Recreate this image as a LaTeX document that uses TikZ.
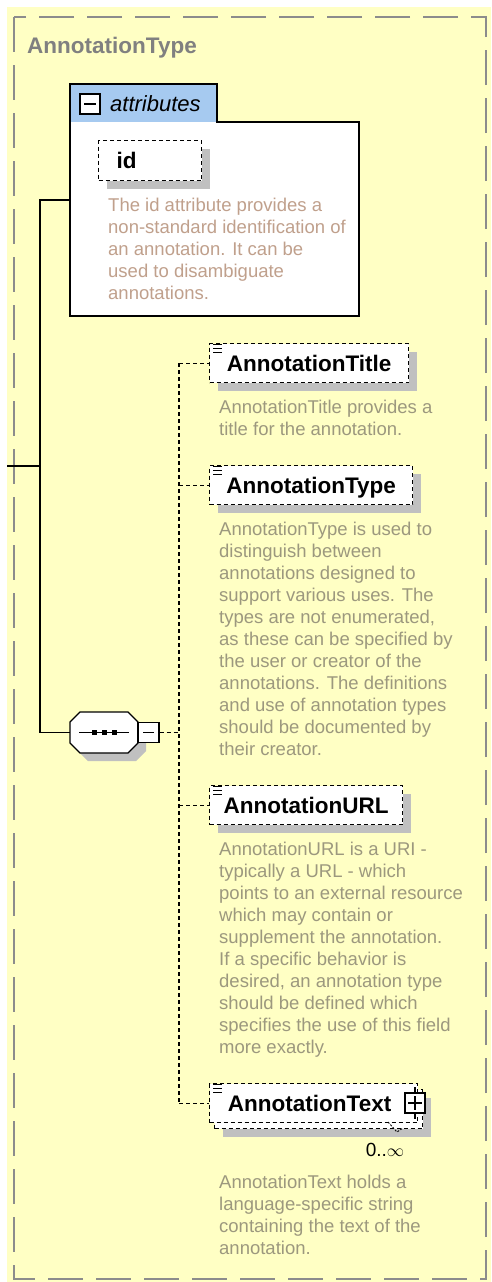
\documentclass[tikz,border=0pt]{standalone}
\usepackage{fontspec}
\setmainfont{Liberation Sans}
\usetikzlibrary{shadows}

\definecolor{typebg}{RGB}{255,255,196}
\definecolor{framegray}{RGB}{140,140,140}
\definecolor{titlegray}{RGB}{128,128,128}
\definecolor{tabblue}{RGB}{166,202,240}
\definecolor{shadegray}{RGB}{192,192,192}
\definecolor{attrnote}{RGB}{192,160,140}
\definecolor{elemnote}{RGB}{156,152,126}

\tikzset{
  elembox/.style={draw, fill=white, line width=1.3pt, dash pattern=on 4pt off 3pt,
    anchor=north west, minimum height=39pt, inner sep=0pt, text height=16.5pt, text depth=0pt,
    font=\fontsize{22.5}{24}\selectfont\bfseries},
  boxshade/.style={general shadow={fill=shadegray, shadow xshift=8pt, shadow yshift=-8pt}},
  notetext/.style={anchor=north west, align=left, inner sep=0pt, font=\fontsize{18.5}{22}\selectfont},
  dashlink/.style={line width=1.3pt, dash pattern=on 4pt off 3pt},
  solidlink/.style={line width=1.3pt},
  ctlbox/.style={draw, fill=white, line width=1.2pt, minimum size=20pt, inner sep=0pt},
}

\begin{document}
\begin{tikzpicture}[x=1pt, y=-1pt]
\useasboundingbox (0,0) rectangle (491,1282);
\fill[typebg] (7,7) rectangle (491,1282);
\draw[framegray, line width=1.3pt, dash pattern=on 35pt off 13pt] (14,17) rectangle (486,1279);
\node[anchor=base west, inner sep=0pt, text=titlegray, font=\fontsize{22.5}{24}\selectfont\bfseries] (typename) at (27,53) {AnnotationType};

% attributes group
\fill[white] (70,122) rectangle (359,316);
\fill[tabblue] (70,84) rectangle (217,122);
\draw[solidlink] (70,316) -- (70,84) -- (217,84) -- (217,122) -- (359,122) -- (359,316) -- cycle;
\node[ctlbox] (attrctl) at (90,104) {};
\draw[line width=1.2pt] (84,104) -- (96,104);
\node[anchor=base west, inner sep=0pt, font=\fontsize{22}{24}\selectfont\itshape] (attrlabel) at (110,111) {attributes};
\node[elembox, boxshade, minimum width=103pt, minimum height=40pt, text width=67pt, align=left] (id) at (98,140) {id};
\node[notetext, text=attrnote] (idnote) at (108,198) {The id attribute provides a\\non-standard identification of\\an annotation. It can be\\used to disambiguate\\annotations.};

% sequence
\fill[shadegray] (88,720) -- (136,720) -- (146,730) -- (146,751) -- (136,761) -- (88,761) -- (78,751) -- (78,730) -- cycle;
\draw[solidlink, fill=white] (80,712) -- (128,712) -- (138,722) -- (138,743) -- (128,753) -- (80,753) -- (70,743) -- (70,722) -- cycle;
\node[inner sep=0pt, minimum width=68pt, minimum height=41pt] (seq) at (104,732.5) {};
\draw[solidlink] (79,732.5) -- (129,732.5);
\foreach \x in {94.5,104.5,114.5}
  \fill (\x-2.5,730) rectangle (\x+2.5,735);
\node[ctlbox, minimum width=21pt] (seqctl) at (148.5,732.5) {};
\draw[line width=1.2pt] (143,732.5) -- (154,732.5);
\coordinate (fork) at (179,732.5);

% elements
\node[elembox, boxshade, minimum width=199pt] (title) at (209,343) {AnnotationTitle};
\node[elembox, boxshade, minimum width=203pt] (type) at (209,465) {AnnotationType};
\node[elembox, boxshade, minimum width=193pt] (url) at (209,785) {AnnotationURL};
\node[elembox, boxshade, minimum width=208pt] (txtback) at (214,1089) {};
\node[elembox, minimum width=208pt] (txt) at (209,1083) {\hspace*{-8pt}AnnotationText};
\foreach \n in {title,type,url,txt}
  \foreach \k in {1.5,5.5,9.5}
    \draw[line width=0.9pt] (\n.north west) ++(4,\k) -- ++(9,0);
\node[ctlbox] (txtctl) at (415,1103) {};
\draw[line width=1.2pt] (txtctl.north) -- ++(0,-5) (txtctl.south) -- ++(0,5);
\draw[line width=1.2pt] (408,1103) -- (422,1103) (415,1096) -- (415,1110);
\draw[line width=0.9pt, dash pattern=on 2pt off 1.5pt] (388,1122) -- (397,1132) -- (403,1128);
\node[inner sep=0pt, font=\fontsize{19}{22}\selectfont] (txtocc) at (385,1150) {0..$\infty$};

\node[notetext, text=elemnote] (titlenote) at (219,400) {AnnotationTitle provides a\\title for the annotation.};
\node[notetext, text=elemnote] (typenote) at (219,522) {AnnotationType is used to\\distinguish between\\annotations designed to\\support various uses. The\\types are not enumerated,\\as these can be specified by\\the user or creator of the\\annotations. The definitions\\and use of annotation types\\should be documented by\\their creator.};
\node[notetext, text=elemnote] (urlnote) at (219,842) {AnnotationURL is a URI -\\typically a URL - which\\points to an external resource\\which may contain or\\supplement the annotation.\\If a specific behavior is\\desired, an annotation type\\should be defined which\\specifies the use of this field\\more exactly.};
\node[notetext, text=elemnote] (txtnote) at (219,1175) {AnnotationText holds a\\language-specific string\\containing the text of the\\annotation.};

% connectors
\coordinate (root) at (7,466);
\coordinate (attrin) at (70,200);
\draw[solidlink] (root) -- (40,466);
\draw[solidlink] (attrin) -- (40,200) |- (seq.west);
\draw[dashlink] (seqctl.east) -- (fork);
\draw[dashlink] (fork |- title.west) -- (fork |- txt.west);
\foreach \n in {title,type,url,txt}
  \draw[dashlink] (fork |- \n.west) -- (\n.west);
\end{tikzpicture}
\end{document}
